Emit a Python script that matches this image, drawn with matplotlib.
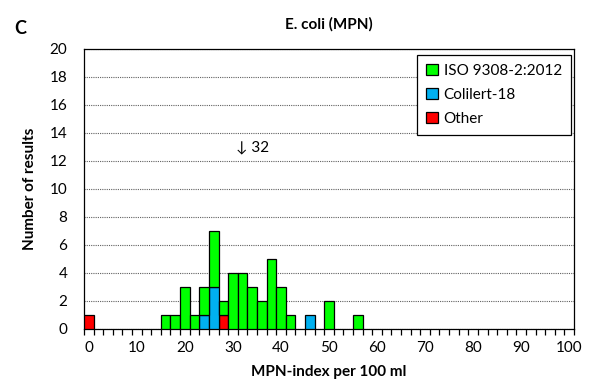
import numpy as np
import matplotlib
matplotlib.use("Agg")
from matplotlib import pyplot as plt
from matplotlib.patches import Patch

plt.rcParams['font.family'] = ['Lato', 'DejaVu Sans']

# --- data: MPN-index categories (bin centres, width 2) and counts per method
categories = list(range(0, 101, 2))
tick_labels = ['0', '10', '20', '30', '40', '50', '60', '70', '80', '90', '100']

iso_bins = [16, 18, 20, 22, 24, 26, 28, 30, 32, 34, 36, 38, 40, 42, 50, 56]
iso_counts = [1, 1, 3, 1, 2, 4, 1, 4, 4, 3, 2, 5, 3, 1, 2, 1]
colilert_bins = [24, 26, 46]
colilert_counts = [1, 3, 1]
other_bins = [0, 28]
other_counts = [1, 1]

outlier_label = "\u2193 32"

series = [
    ("Other", other_bins, other_counts, "#ff0000"),
    ("Colilert-18", colilert_bins, colilert_counts, "#00b0f0"),
    ("ISO 9308-2:2012", iso_bins, iso_counts, "#00ff00"),
]

fig = plt.figure(figsize=(5.93, 3.87), dpi=100)
ax = fig.add_axes([84 / 593, 58 / 387, 490 / 593, 280 / 387])

bottom = {c: 0 for c in categories}
for name, bins, counts, col in series:
    base = [bottom[b] for b in bins]
    ax.bar(bins, counts, width=2, bottom=base, color=col,
           edgecolor='black', linewidth=0.9, zorder=3)
    for b, c in zip(bins, counts):
        bottom[b] += c

ax.set_xlim(-1, 101)
ax.set_ylim(0, 20)

# category style x-axis: labels every 10, tick marks between categories
ax.set_xticks(range(0, 101, 10))
ax.set_xticklabels(tick_labels, fontsize=11)
ax.tick_params(axis='x', which='major', length=0, pad=9)
ax.set_xticks(np.arange(-1, 102, 2), minor=True)
ax.tick_params(axis='x', which='minor', length=4, width=0.9, direction='out')

ax.set_yticks(range(0, 21, 2))
ax.tick_params(axis='y', length=0, labelsize=11, pad=12)
ax.yaxis.grid(True, linestyle=(0, (1, 1)), color='#606060', linewidth=0.8, zorder=0)

for s in ax.spines.values():
    s.set_linewidth(0.9)
    s.set_color('black')

ax.set_xlabel("MPN-index per 100 ml", fontsize=11, fontweight='bold', labelpad=7)
ax.set_ylabel("Number of results", fontsize=11, fontweight='bold', labelpad=9)
ax.set_title("E. coli (MPN)", fontsize=11, fontweight='bold', pad=15)
fig.text(20 / 593, 1 - 28 / 387, "C", fontsize=13, fontweight='bold',
         ha='center', va='center')

ax.text(34, 13, outlier_label, fontsize=11, ha='center', va='center')

handles = [Patch(facecolor=col, edgecolor='black', linewidth=0.9, label=name)
           for name, _, _, col in series[::-1]]
leg = ax.legend(handles=handles, loc='upper right', bbox_to_anchor=(0.994, 0.979),
                fontsize=11, frameon=True, fancybox=False, framealpha=1,
                edgecolor='black', handlelength=0.75, handleheight=0.75,
                handletextpad=0.4, labelspacing=0.65, borderpad=0.6,
                borderaxespad=0)
leg.get_frame().set_linewidth(0.9)

fig.savefig("out.png", dpi=100)
